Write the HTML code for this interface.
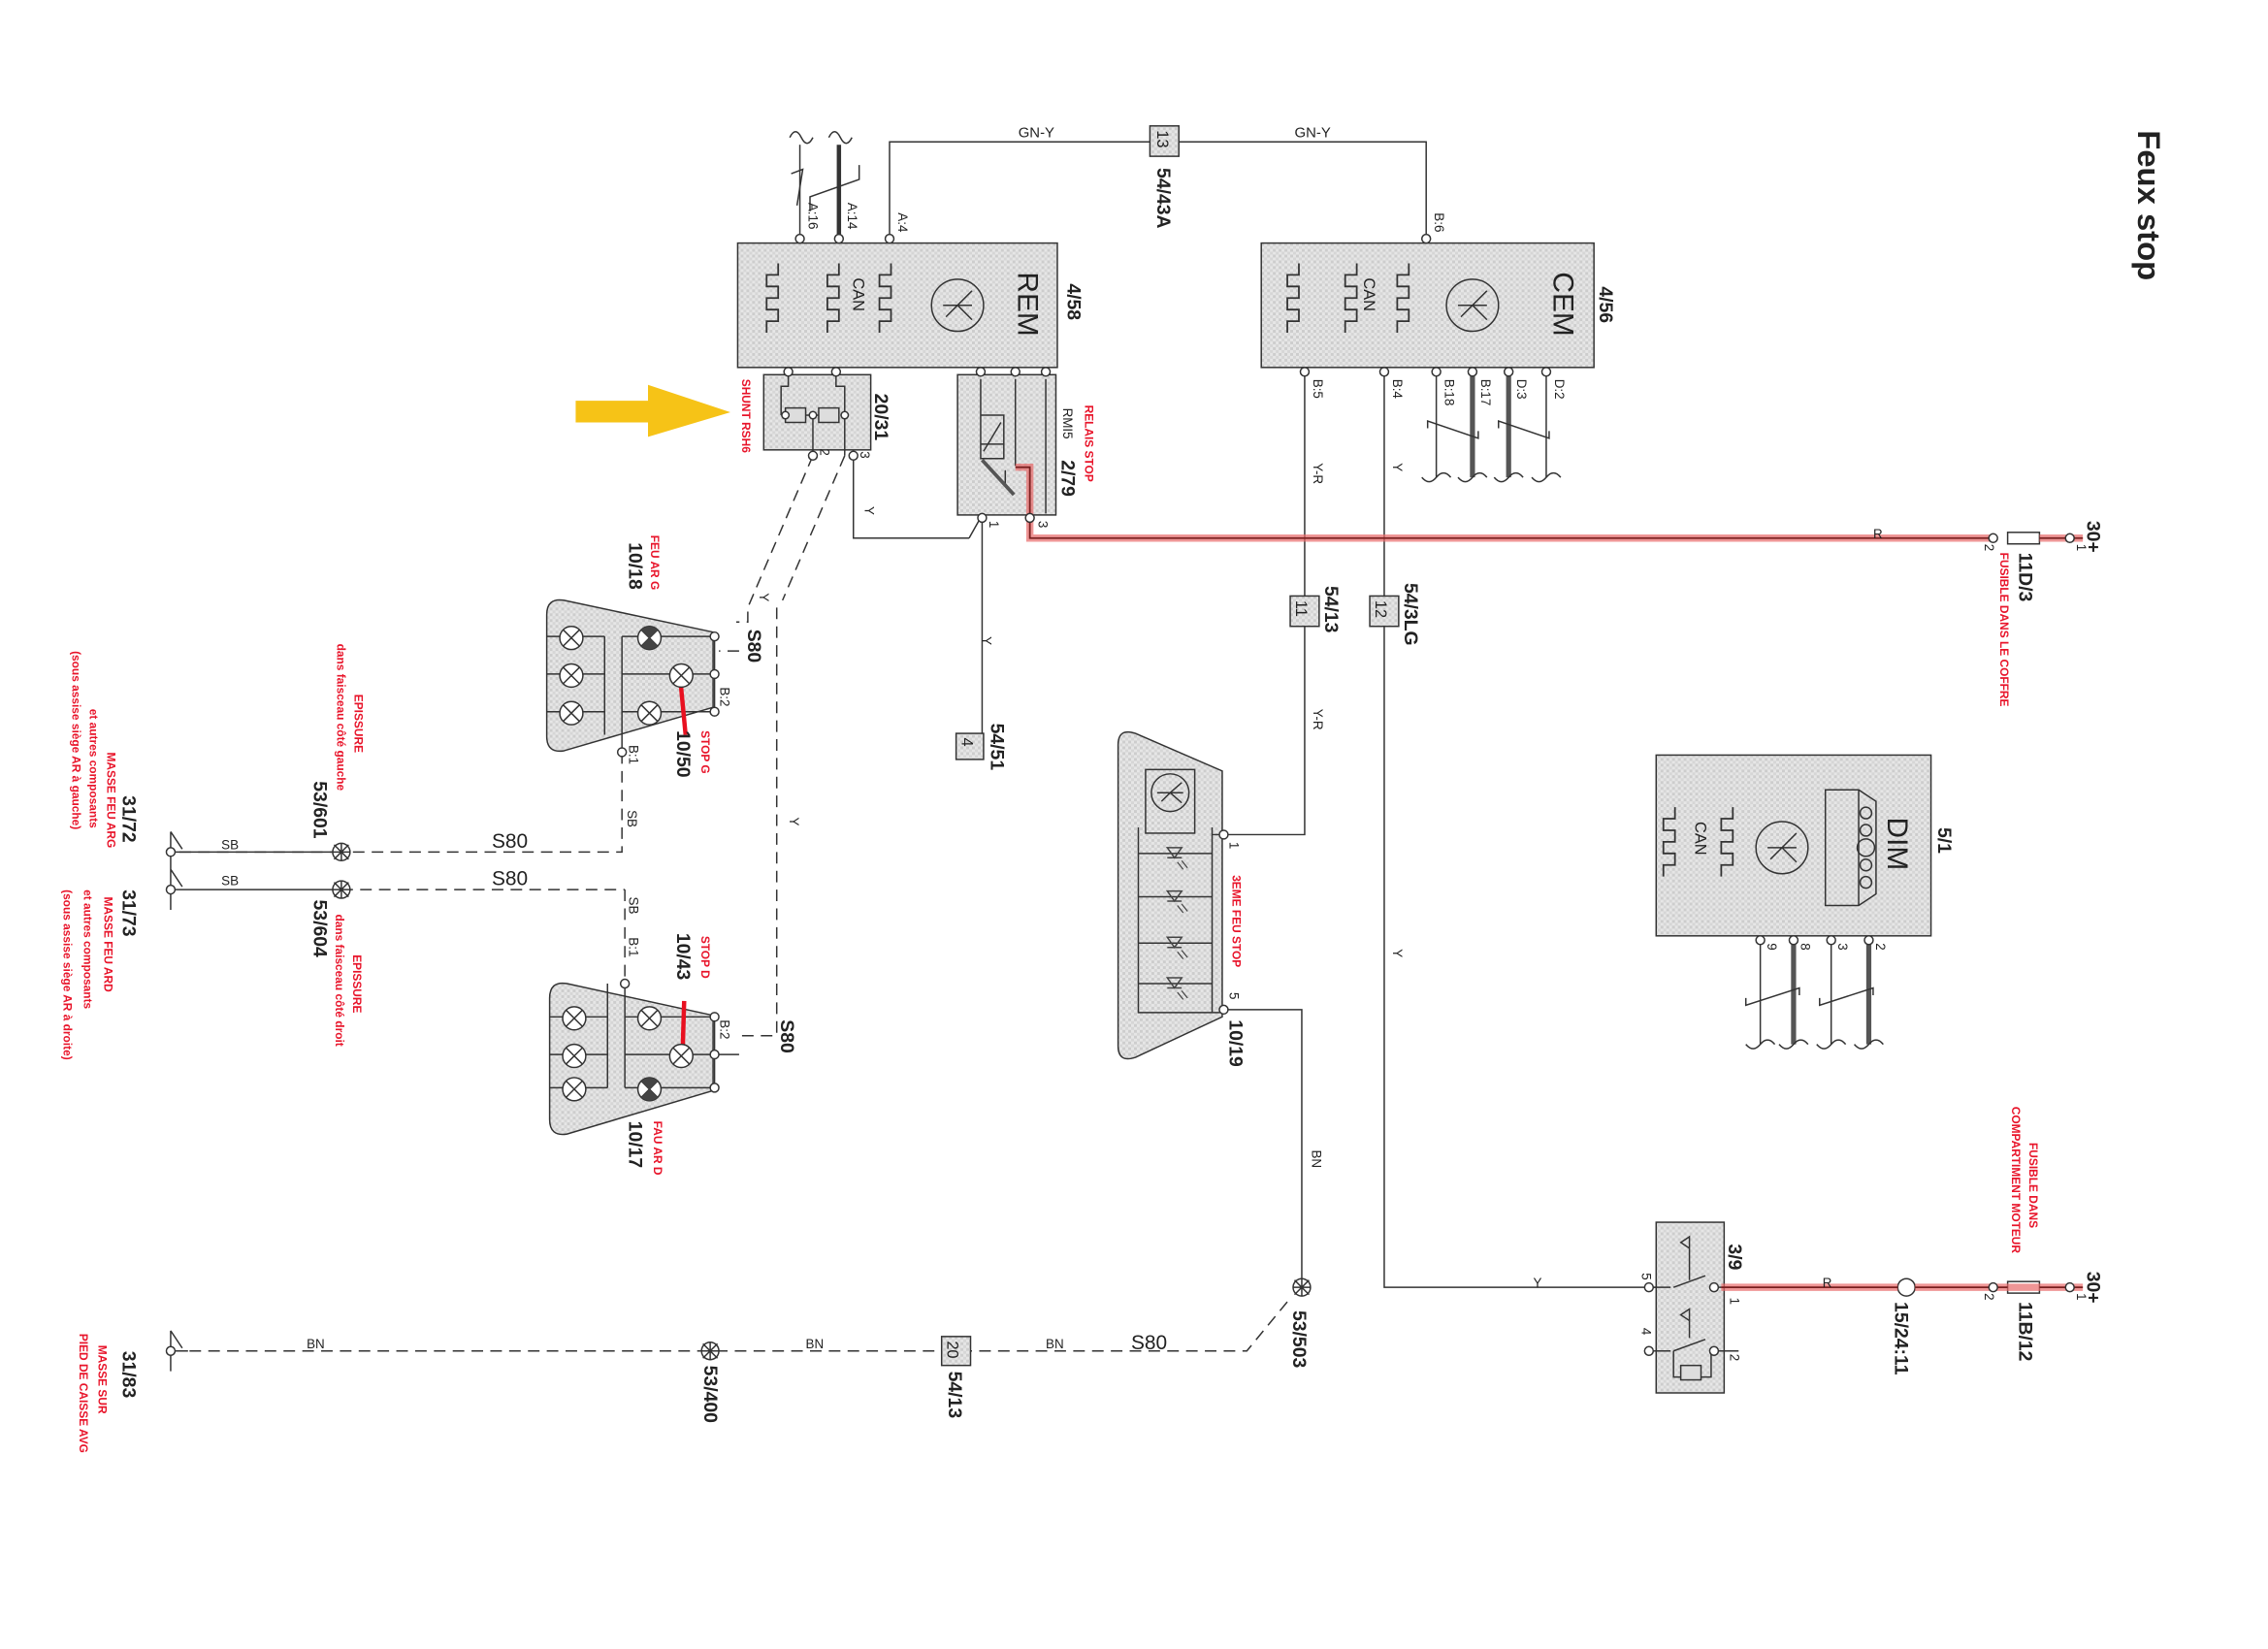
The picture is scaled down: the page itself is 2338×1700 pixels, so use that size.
<!DOCTYPE html>
<html><head><meta charset="utf-8"><style>
html,body{margin:0;padding:0;background:#fff}
svg{display:block}
text{font-family:"Liberation Sans",sans-serif;fill:#222}
.red{fill:#e8142a;font-weight:bold}
.b{font-weight:bold}
</style></head><body>
<svg width="2338" height="1700" viewBox="0 0 1568 1140" xmlns="http://www.w3.org/2000/svg">
<defs>
<pattern id="g" width="4" height="4" patternUnits="userSpaceOnUse">
<rect width="4" height="4" fill="#e6e6e6"/><rect width="2" height="2" fill="#cdcdcd"/><rect x="2" y="2" width="2" height="2" fill="#d6d6d6"/>
</pattern>
<symbol id="lamp" viewBox="-9 -9 18 18" overflow="visible"><circle r="8" fill="#fff" stroke="#333" stroke-width="1"/><path d="M-5.6-5.6L5.6 5.6M5.6-5.6L-5.6 5.6" stroke="#333" stroke-width="1"/></symbol>
<symbol id="lampd" viewBox="-9 -9 18 18" overflow="visible"><circle r="8" fill="#fff" stroke="#333"/><path d="M-5.6-5.6L5.6 5.6M5.6-5.6L-5.6 5.6" stroke="#333"/><path d="M0 0L-5.6-5.6A8 8 0 0 1 5.6-5.6Z M0 0L-5.6 5.6A8 8 0 0 0 5.6 5.6Z" fill="#444"/></symbol>
<symbol id="can" overflow="visible"><path d="M0 0h8v8h8v-8h8v8h8v-8h8v8h8" fill="none" stroke="#333" stroke-width="1.2"/></symbol>
<symbol id="led" overflow="visible"><path d="M-5-4h10l-5 7z M-5 3h10" fill="none" stroke="#444" stroke-width="1"/><path d="M2 6l4 5M5 5l4 5" stroke="#444" stroke-width="0.8" fill="none"/></symbol>
</defs>
<rect width="1568" height="1140" fill="#fff"/>
<g fill="none" stroke="#333" stroke-width="1">
<path d="M553 100V168"/><path d="M580 100V168" stroke-width="3"/>
<path d="M547 120l8-3v0 l-4 25 M560 146v-10l34-12v-10" />
<path d="M546 95q4-8 8 0q4 8 8 0 M573 95q4-8 8 0q4 8 8 0"/>
<path d="M615 168V98H795 M815 98H986V168"/>
<rect x="795" y="87" width="20" height="21" fill="url(#g)"/>
<rect x="510" y="168" width="221" height="86" fill="url(#g)"/>
<circle cx="662" cy="211" r="18"/><path d="M652 211h20M662 211l10-10M662 211l10 10M662 211l-8 8"/>
<rect x="872" y="168" width="230" height="86" fill="url(#g)"/>
<circle cx="1018" cy="211" r="18"/><path d="M1008 211h20M1018 211l10-10M1018 211l10 10M1018 211l-8 8"/>
<rect x="1145" y="522" width="190" height="125" fill="url(#g)"/>
<circle cx="1232" cy="586" r="18"/><path d="M1222 586h20M1232 586l10-10M1232 586l10 10M1232 586l-8 8"/>
<path d="M1262 546h23l12 8v64l-12 8h-23z M1285 546v80"/>
<circle cx="1290" cy="562" r="4"/><circle cx="1290" cy="574" r="4"/><circle cx="1290" cy="586" r="6"/><circle cx="1290" cy="598" r="4"/><circle cx="1290" cy="610" r="4"/>
<path d="M1217 650V722 M1240 650V722 M1266 650V722 M1292 650V722"/>
<path d="M1240 650V722 M1292 650V722" stroke-width="3.5" stroke="#555"/>
<path d="M1207 690v5l37-12v5 M1258 690v5l37-12v5"/>
<path d="M1207 722q5 6 10 0q5-6 10 0 M1230 722q5 6 10 0q5-6 10 0 M1256 722q5 6 10 0q5-6 10 0 M1282 722q5 6 10 0q5-6 10 0"/>
<path d="M902 254V577H846"/>
<path d="M957 254V890H1150"/>
<path d="M993 258V330 M1018 258V330 M1043 258V330 M1069 258V330"/>
<path d="M1018 258V330 M1043 258V330" stroke-width="3.5" stroke="#555"/>
<path d="M987 296v-5l35 12v-5 M1036 296v-5l35 12v-5"/>
<path d="M983 330q5 6 10 0q5-6 10 0 M1008 330q5 6 10 0q5-6 10 0 M1033 330q5 6 10 0q5-6 10 0 M1059 330q5 6 10 0q5-6 10 0"/>
<rect x="892" y="412" width="20" height="21" fill="url(#g)"/>
<rect x="947" y="412" width="20" height="21" fill="url(#g)"/>
<rect x="528" y="259" width="74" height="52" fill="url(#g)"/>
<path d="M545 255v12h-5v20 M578 255v12h6v20 M540 287h3 M581 287h3 M562 287v28 M584 287v28 M590 315v57h80"/>
<rect x="543" y="282" width="14" height="10" fill="#ddd"/><rect x="566" y="282" width="14" height="10" fill="#ddd"/>
<path d="M557 287h9"/>
<rect x="662" y="259" width="68" height="97" fill="url(#g)"/>
<path d="M678 262v45h16 M702 262v60 M723 262v93 M694 287v30h-16v-30z M680 312l12-20 M695 325v10" />
<path d="M679 355V508 M670 372l9-16" />
<path d="M679 318l22 24" stroke-width="2.5" stroke="#555"/>
<rect x="661" y="507" width="19" height="18" fill="url(#g)"/>
<g stroke-dasharray="8 5">
<path d="M562 315l-45 105v10h-8 M584 315l-43 100"/>
<path d="M537 420V716H511 M511 450H497"/>
<path d="M430 520V589H236 M236 589H118 M432 615V680 M236 615H432"/>
<path d="M118 934H862L890 900"/>
</g>
<path d="M118 589H236 M118 615H236"/>
<path d="M118 934H130"/>
<path d="M118 575v28 M118 575l8 12 M118 601v28 M118 601l8 12 M118 920v28 M118 920l8 12"/>
<path d="M378 425q0-12 12-10l103 22v52l-103 30q-12 2-12-10z" fill="url(#g)"/>
<path d="M378 440h40 M378 466h40 M378 492h40 M418 440v68 M430 440h64 M430 466h64 M430 492h64 M430 440v80 M494 440v52"/>
<path d="M380 690q0-12 12-10l101 22v52l-101 30q-12 2-12-10z" fill="url(#g)"/>
<path d="M380 703h40 M380 729h40 M380 752h40 M420 680v72 M432 680v72 M432 703h62 M432 729h62 M432 752h62 M494 703v52"/>
<path d="M494 729h17"/>
<path d="M773 515q0-12 12-8l60 26v170l-60 28q-12 4-12-8z" fill="url(#g)"/>
<rect x="792" y="532" width="34" height="44"/><circle cx="809" cy="548" r="13"/>
<path d="M800 548h18M809 548l8-7M809 548l8 7M809 548l-6 6"/>
<path d="M787 572v128h51V572 M787 590h51 M787 620h51 M787 652h51 M787 680h51 M838 577h8 M838 700h8"/>
<path d="M846 698H900V885"/>
<rect x="1145" y="845" width="47" height="118" fill="url(#g)"/>
<path d="M1140 890h15 M1157 890l22-8 M1182 890h20 M1140 934h15 M1157 934l22-8 M1182 934h20 M1157 934v18h26v-18"/>
<rect x="1162" y="944" width="14" height="10" fill="#ddd"/>
<path d="M1168 855l-6 4 6 4v-8z M1168 905l-6 4 6 4v-8z M1168 863v22 M1168 913v12" />
<circle cx="1318" cy="890" r="6" fill="#fff"/>
<rect x="1388" y="886" width="22" height="8" fill="#fff"/>
<rect x="1388" y="368" width="22" height="8" fill="#fff"/>
</g>
<use href="#led" x="812" y="590"/><use href="#led" x="812" y="620"/><use href="#led" x="812" y="652"/><use href="#led" x="812" y="680"/>
<g fill="none" stroke="#e86a6a" stroke-width="5" opacity=".7">
<path d="M702 323H712V372H1378"/><path d="M1190 890H1312 M1324 890H1440"/><path d="M1410 372H1440"/>
</g>
<g fill="none" stroke="#7a2020" stroke-width="1.2">
<path d="M702 323H712V372H1378"/><path d="M1190 890H1312 M1324 890H1388 M1410 890H1440"/><path d="M1410 372H1440"/>
</g>
<path d="M470 466L474 508 M473 692L472 725" stroke="#e81020" stroke-width="3"/>
<use href="#lamp" x="386" y="432" width="18" height="18"/><use href="#lamp" x="386" y="458" width="18" height="18"/><use href="#lamp" x="386" y="484" width="18" height="18"/>
<use href="#lampd" x="440" y="432" width="18" height="18"/><use href="#lamp" x="462" y="458" width="18" height="18"/><use href="#lamp" x="440" y="484" width="18" height="18"/>
<use href="#lamp" x="388" y="695" width="18" height="18"/><use href="#lamp" x="388" y="721" width="18" height="18"/><use href="#lamp" x="388" y="744" width="18" height="18"/>
<use href="#lamp" x="440" y="695" width="18" height="18"/><use href="#lamp" x="462" y="721" width="18" height="18"/><use href="#lampd" x="440" y="744" width="18" height="18"/>
<g fill="#fff" stroke="#333"><circle cx="236" cy="589" r="6"/><circle cx="236" cy="615" r="6"/><circle cx="491" cy="934" r="6"/><circle cx="900" cy="890" r="6"/></g>
<path d="M231 584l10 10M241 584l-10 10M236 583v12M230 589h12 M231 610l10 10M241 610l-10 10M236 609v12M230 615h12 M486 929l10 10M496 929l-10 10M491 928v12M485 934h12 M895 885l10 10M905 885l-10 10M900 884v12M894 890h12" stroke="#333"/>
<rect x="651" y="924" width="20" height="20" fill="url(#g)" stroke="#333"/>
<g transform="translate(530,230) rotate(-90)"><use href="#can"/></g>
<g transform="translate(572,230) rotate(-90)"><use href="#can"/></g>
<g transform="translate(608,230) rotate(-90)"><use href="#can"/></g>
<g transform="translate(890,230) rotate(-90)"><use href="#can"/></g>
<g transform="translate(930,230) rotate(-90)"><use href="#can"/></g>
<g transform="translate(966,230) rotate(-90)"><use href="#can"/></g>
<g transform="translate(1150,606) rotate(-90)"><use href="#can"/></g>
<g transform="translate(1190,606) rotate(-90)"><use href="#can"/></g>
<g fill="#fff" stroke="#333">
<circle cx="553" cy="165" r="3"/><circle cx="580" cy="165" r="3"/><circle cx="615" cy="165" r="3"/><circle cx="986" cy="165" r="3"/>
<circle cx="545" cy="257" r="3"/><circle cx="578" cy="257" r="3"/><circle cx="562" cy="315" r="3"/><circle cx="590" cy="315" r="3"/>
<circle cx="678" cy="257" r="3"/><circle cx="702" cy="257" r="3"/><circle cx="723" cy="257" r="3"/><circle cx="679" cy="358" r="3"/><circle cx="712" cy="358" r="3"/>
<circle cx="902" cy="257" r="3"/><circle cx="957" cy="257" r="3"/><circle cx="993" cy="257" r="3"/><circle cx="1018" cy="257" r="3"/><circle cx="1043" cy="257" r="3"/><circle cx="1069" cy="257" r="3"/>
<circle cx="1217" cy="650" r="3"/><circle cx="1240" cy="650" r="3"/><circle cx="1266" cy="650" r="3"/><circle cx="1292" cy="650" r="3"/>
<circle cx="846" cy="577" r="3"/><circle cx="846" cy="698" r="3"/>
<circle cx="1140" cy="890" r="3"/><circle cx="1140" cy="934" r="3"/><circle cx="1185" cy="890" r="3"/><circle cx="1185" cy="934" r="3"/>
<circle cx="1378" cy="372" r="3"/><circle cx="1431" cy="372" r="3"/><circle cx="1378" cy="890" r="3"/><circle cx="1431" cy="890" r="3"/>
<circle cx="494" cy="440" r="3"/><circle cx="494" cy="466" r="3"/><circle cx="494" cy="492" r="3"/><circle cx="430" cy="520" r="3"/>
<circle cx="494" cy="703" r="3"/><circle cx="494" cy="729" r="3"/><circle cx="494" cy="752" r="3"/><circle cx="432" cy="680" r="3"/>
<circle cx="118" cy="589" r="3"/><circle cx="118" cy="615" r="3"/><circle cx="118" cy="934" r="3"/>
<circle cx="543" cy="287" r="2.5"/><circle cx="562" cy="287" r="2.5"/><circle cx="584" cy="287" r="2.5"/>
</g>
<g font-size="10">
<text x="704" y="95">GN-Y</text><text x="895" y="95">GN-Y</text>
<text x="1295" y="372" font-size="9">R</text><text x="1260" y="890" font-size="9">R</text>
<text x="1060" y="890" font-size="9">Y</text>
<text x="153" y="587" font-size="9">SB</text><text x="153" y="612" font-size="9">SB</text>
<text x="212" y="932" font-size="9">BN</text><text x="557" y="932" font-size="9">BN</text><text x="723" y="932" font-size="9">BN</text>
<text x="340" y="586" font-size="14">S80</text><text x="340" y="612" font-size="14">S80</text><text x="782" y="933" font-size="14">S80</text>
</g>
<g font-size="9">
<text transform="translate(559,140) rotate(90)">A:16</text>
<text transform="translate(586,140) rotate(90)">A:14</text>
<text transform="translate(621,147) rotate(90)">A:4</text>
<text transform="translate(992,147) rotate(90)">B:6</text>
<text transform="translate(908,262) rotate(90)">B:5</text>
<text transform="translate(963,262) rotate(90)">B:4</text>
<text transform="translate(999,262) rotate(90)">B:18</text>
<text transform="translate(1024,262) rotate(90)">B:17</text>
<text transform="translate(1049,262) rotate(90)">D:3</text>
<text transform="translate(1075,262) rotate(90)">D:2</text>
<text transform="translate(908,320) rotate(90)">Y-R</text>
<text transform="translate(908,490) rotate(90)">Y-R</text>
<text transform="translate(963,320) rotate(90)">Y</text>
<text transform="translate(963,656) rotate(90)">Y</text>
<text transform="translate(598,350) rotate(90)">Y</text>
<text transform="translate(679,440) rotate(90)">Y</text>
<text transform="translate(546,565) rotate(90)">Y</text>
<text transform="translate(525,410) rotate(90)">Y</text>
<text transform="translate(907,795) rotate(90)">BN</text>
<text transform="translate(434,560) rotate(90)">SB</text>
<text transform="translate(435,620) rotate(90)">SB</text>
<text transform="translate(435,515) rotate(90)">B:1</text>
<text transform="translate(435,648) rotate(90)">B:1</text>
<text transform="translate(498,475) rotate(90)">B:2</text>
<text transform="translate(498,705) rotate(90)">B:2</text>
<text transform="translate(735,282) rotate(90)">RMI5</text>
<text transform="translate(1222,652) rotate(90)">9</text><text transform="translate(1245,652) rotate(90)">8</text><text transform="translate(1271,652) rotate(90)">3</text><text transform="translate(1297,652) rotate(90)">2</text>
<text transform="translate(1436,376) rotate(90)">1</text><text transform="translate(1372,376) rotate(90)">2</text>
<text transform="translate(1436,894) rotate(90)">1</text><text transform="translate(1372,894) rotate(90)">2</text>
<text transform="translate(1196,897) rotate(90)">1</text><text transform="translate(1196,936) rotate(90)">2</text>
<text transform="translate(1135,880) rotate(90)">5</text><text transform="translate(1135,918) rotate(90)">4</text>
<text transform="translate(850,582) rotate(90)">1</text><text transform="translate(850,686) rotate(90)">5</text>
<text transform="translate(567,310) rotate(90)">2</text><text transform="translate(595,312) rotate(90)">3</text>
<text transform="translate(718,360) rotate(90)">3</text><text transform="translate(684,360) rotate(90)">1</text>
</g>
<g font-size="13" font-weight="bold">
<text transform="translate(800,116) rotate(90)">54/43A</text>
<text transform="translate(738,196) rotate(90)">4/58</text>
<text transform="translate(1106,198) rotate(90)">4/56</text>
<text transform="translate(605,272) rotate(90)">20/31</text>
<text transform="translate(734,318) rotate(90)">2/79</text>
<text transform="translate(1396,382) rotate(90)">11D/3</text>
<text transform="translate(1443,360) rotate(90)">30+</text>
<text transform="translate(1443,879) rotate(90)">30+</text>
<text transform="translate(1396,900) rotate(90)">11B/12</text>
<text transform="translate(1310,900) rotate(90)">15/24:11</text>
<text transform="translate(1195,860) rotate(90)">3/9</text>
<text transform="translate(1340,572) rotate(90)">5/1</text>
<text transform="translate(916,405) rotate(90)">54/13</text>
<text transform="translate(971,403) rotate(90)">54/3LG</text>
<text transform="translate(685,500) rotate(90)">54/51</text>
<text transform="translate(850,705) rotate(90)">10/19</text>
<text transform="translate(435,375) rotate(90)">10/18</text>
<text transform="translate(435,775) rotate(90)">10/17</text>
<text transform="translate(468,505) rotate(90)">10/50</text>
<text transform="translate(468,645) rotate(90)">10/43</text>
<text transform="translate(517,435) rotate(90)">S80</text>
<text transform="translate(540,705) rotate(90)">S80</text>
<text transform="translate(217,540) rotate(90)">53/601</text>
<text transform="translate(217,622) rotate(90)">53/604</text>
<text transform="translate(894,906) rotate(90)">53/503</text>
<text transform="translate(487,944) rotate(90)">53/400</text>
<text transform="translate(656,948) rotate(90)">54/13</text>
<text transform="translate(85,550) rotate(90)">31/72</text>
<text transform="translate(85,615) rotate(90)">31/73</text>
<text transform="translate(85,934) rotate(90)">31/83</text>
</g>
<g font-size="11">
<text transform="translate(800,90) rotate(90)">13</text>
<text transform="translate(896,415) rotate(90)">11</text>
<text transform="translate(951,415) rotate(90)">12</text>
<text transform="translate(665,510) rotate(90)">4</text>
<text transform="translate(655,927) rotate(90)">20</text>
<text transform="translate(590,192) rotate(90)">CAN</text>
<text transform="translate(943,192) rotate(90)">CAN</text>
<text transform="translate(1172,568) rotate(90)">CAN</text>
</g>
<g font-size="20">
<text transform="translate(704,188) rotate(90)">REM</text>
<text transform="translate(1074,188) rotate(90)">CEM</text>
<text transform="translate(1305,565) rotate(90)">DIM</text>
</g>
<text transform="translate(1478,90) rotate(90)" font-size="22" font-weight="bold">Feux stop</text>
<g font-size="8">
<text class="red" transform="translate(513,262) rotate(90)">SHUNT RSH6</text>
<text class="red" transform="translate(750,280) rotate(90)">RELAIS STOP</text>
<text class="red" transform="translate(450,370) rotate(90)">FEU AR G</text>
<text class="red" transform="translate(485,505) rotate(90)">STOP G</text>
<text class="red" transform="translate(485,647) rotate(90)">STOP D</text>
<text class="red" transform="translate(452,775) rotate(90)">FAU AR D</text>
<text class="red" transform="translate(852,605) rotate(90)">3EME FEU STOP</text>
<text class="red" transform="translate(1383,382) rotate(90)">FUSIBLE DANS LE COFFRE</text>
<text class="red" transform="translate(1403,790) rotate(90)">FUSIBLE DANS</text>
<text class="red" transform="translate(1391,765) rotate(90)">COMPARTIMENT MOTEUR</text>
<text class="red" transform="translate(245,480) rotate(90)">EPISSURE</text>
<text class="red" transform="translate(233,445) rotate(90)">dans faisceau côté gauche</text>
<text class="red" transform="translate(244,660) rotate(90)">EPISSURE</text>
<text class="red" transform="translate(232,632) rotate(90)">dans faisceau côté droit</text>
<text class="red" transform="translate(74,520) rotate(90)">MASSE FEU ARG</text>
<text class="red" transform="translate(62,490) rotate(90)">et autres composants</text>
<text class="red" transform="translate(50,450) rotate(90)">(sous assise siège AR à gauche)</text>
<text class="red" transform="translate(72,620) rotate(90)">MASSE FEU ARD</text>
<text class="red" transform="translate(58,615) rotate(90)">et autres composants</text>
<text class="red" transform="translate(44,615) rotate(90)">(sous assise siège AR à droite)</text>
<text class="red" transform="translate(68,930) rotate(90)">MASSE SUR</text>
<text class="red" transform="translate(55,922) rotate(90)">PIED DE CAISSE AVG</text>
</g>
<path d="M398 277H448V266L505 285L448 302V292H398Z" fill="#f6c317"/>
</svg>
</body></html>
